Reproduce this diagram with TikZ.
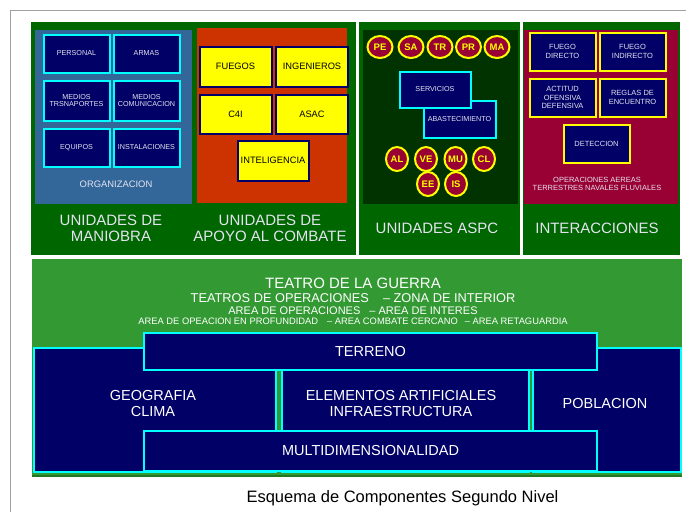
\documentclass[tikz,border=0pt]{standalone}
\usepackage{fontspec}
\setmainfont{Liberation Sans}
\usetikzlibrary{shapes.geometric}
\definecolor{dkgreen}{RGB}{0,102,0}
\definecolor{ltgreen}{RGB}{51,153,51}
\definecolor{edgegreen}{RGB}{34,119,34}
\definecolor{orgblue}{RGB}{51,102,153}
\definecolor{orangec}{RGB}{204,51,0}
\definecolor{navyc}{RGB}{0,0,102}
\definecolor{cyanc}{RGB}{0,255,255}
\definecolor{yelc}{RGB}{255,255,0}
\definecolor{aspcgreen}{RGB}{0,51,0}
\definecolor{maroonc}{RGB}{153,0,51}
\definecolor{txtw}{RGB}{228,228,240}
\definecolor{framegray}{RGB}{160,160,160}
\tikzset{
  nbox/.style={draw=cyanc, fill=navyc, line width=2pt, inner sep=0pt, text=txtw, align=center, font=\fontsize{7.2}{7.8}\selectfont},
  ybox/.style={draw=navyc, fill=yelc, line width=2pt, inner sep=0pt, text=black, align=center, font=\fontsize{9.3}{10}\selectfont},
  mbox/.style={draw=yelc, fill=navyc, line width=2pt, inner sep=0pt, text=txtw, align=center, font=\fontsize{7.5}{8.3}\selectfont},
  circ/.style={ellipse, draw=yelc, fill=maroonc, line width=2pt, inner sep=0pt, text=yelc, font=\bfseries\fontsize{9.5}{10}\selectfont},
  bignav/.style={draw=cyanc, fill=navyc, line width=2pt, inner sep=0pt, text=white, align=center, font=\fontsize{14.5}{16}\selectfont},
  plabel/.style={text=txtw, align=center, inner sep=0pt, font=\fontsize{15}{16}\selectfont},
  smalllabel/.style={text=txtw, align=center, inner sep=0pt},
  wtext/.style={text=white, inner sep=0pt}
}
\begin{document}
\begin{tikzpicture}[x=1pt,y=-1pt]
\useasboundingbox (0,0) rectangle (686,512);
\fill[white] (0,0) rectangle (686,512);
% frame
\draw[framegray, line width=1.5pt] (10.5,512) -- (10.5,10.5) -- (686,10.5);
% top panels
\fill[dkgreen] (31,22) rectangle (356,255);
\fill[dkgreen] (359,22) rectangle (520,255);
\fill[dkgreen] (523,22) rectangle (680,255);
\fill[orgblue] (35,30) rectangle (192,204);
\fill[orangec] (197,28) rectangle (347,203);
\fill[aspcgreen] (363,30) rectangle (518,204);
\fill[maroonc] (524,30) rectangle (678,204);
% organizacion boxes
\node[nbox, minimum width=66, minimum height=38] (personal) at (76.5,53.5) {PERSONAL};
\node[nbox, minimum width=66, minimum height=38] (armas) at (146.5,53.5) {ARMAS};
\node[nbox, minimum width=66, minimum height=40] (mtrans) at (76.5,100.5) {MEDIOS\\TRSNAPORTES};
\node[nbox, minimum width=66, minimum height=40] (mcom) at (146.5,100.5) {MEDIOS\\COMUNICACION};
\node[nbox, minimum width=66, minimum height=38] (equipos) at (76.5,147.5) {EQUIPOS};
\node[nbox, minimum width=66, minimum height=38] (instal) at (146.5,147.5) {INSTALACIONES};
\node[smalllabel, font=\fontsize{9.4}{10}\selectfont] (organiz) at (116,184) {ORGANIZACION};
% apoyo al combate boxes
\node[ybox, minimum width=72, minimum height=40] (fuegos) at (235.5,66.5) {FUEGOS};
\node[ybox, minimum width=72, minimum height=40] (ingen) at (312,66.5) {INGENIEROS};
\node[ybox, minimum width=72, minimum height=39] (c4i) at (235.5,114) {C4I};
\node[ybox, minimum width=72, minimum height=39] (asac) at (312,114) {ASAC};
\node[ybox, minimum width=71, minimum height=40] (intel) at (273,160.5) {INTELIGENCIA};
% panel labels
\node[plabel] (lmaniobra) at (111,228) {UNIDADES DE\\MANIOBRA};
\node[plabel] (lapoyo) at (270,228) {UNIDADES DE\\APOYO AL COMBATE};
\node[plabel] (laspc) at (437,228) {UNIDADES ASPC};
\node[plabel] (linter) at (597,228) {INTERACCIONES};
% ASPC
\node[circ, minimum width=25, minimum height=22] (pe) at (380,47) {PE};
\node[circ, minimum width=25, minimum height=22] (sa) at (411,47) {SA};
\node[circ, minimum width=25, minimum height=22] (tr) at (440,47) {TR};
\node[circ, minimum width=25, minimum height=22] (pr) at (468.5,47) {PR};
\node[circ, minimum width=25, minimum height=22] (ma) at (497,47) {MA};
\node[nbox, minimum width=72, minimum height=37] (abast) at (459.5,119) {ABASTECIMIENTO};
\node[nbox, minimum width=71, minimum height=36] (serv) at (435,89.5) {SERVICIOS};
\node[circ, minimum width=22, minimum height=24] (al) at (397,159) {AL};
\node[circ, minimum width=22, minimum height=24] (ve) at (426,159) {VE};
\node[circ, minimum width=22, minimum height=24] (mu) at (455.5,159) {MU};
\node[circ, minimum width=22, minimum height=24] (cl) at (484,159) {CL};
\node[circ, minimum width=22, minimum height=24] (ee) at (428,184) {EE};
\node[circ, minimum width=22, minimum height=24] (is) at (456,184) {IS};
% interacciones
\node[mbox, minimum width=66, minimum height=38] (fdir) at (562.5,51.5) {FUEGO\\DIRECTO};
\node[mbox, minimum width=66, minimum height=38] (findir) at (632.5,51.5) {FUEGO\\INDIRECTO};
\node[mbox, minimum width=66, minimum height=38] (actitud) at (562.5,97.5) {ACTITUD\\OFENSIVA\\DEFENSIVA};
\node[mbox, minimum width=66, minimum height=38] (reglas) at (632.5,97.5) {REGLAS DE\\ENCUENTRO};
\node[mbox, minimum width=66, minimum height=38] (detec) at (596.5,143.5) {DETECCION};
\node[smalllabel, font=\fontsize{7.5}{8.3}\selectfont] (opers) at (597,184) {OPERACIONES AEREAS\\TERRESTRES NAVALES FLUVIALES};
% lower panel
\fill[ltgreen] (31.5,258.5) rectangle (682,477);
\draw[edgegreen, line width=2pt] (31.5,476) -- (682,476);
\node[wtext, font=\fontsize{15}{15}\selectfont] (teatro) at (353,283.5) {TEATRO DE LA GUERRA};
\node[wtext, font=\fontsize{12.8}{13}\selectfont] (teatros) at (353,298.5) {TEATROS DE OPERACIONES\hspace{14pt}– ZONA DE INTERIOR};
\node[wtext, font=\fontsize{11}{11}\selectfont] (areaop) at (353,311) {AREA DE OPERACIONES\hspace{9pt}– AREA DE INTERES};
\node[wtext, font=\fontsize{9.35}{10}\selectfont] (areaprof) at (353,321.5) {AREA DE OPEACION EN PROFUNDIDAD\hspace{9pt}– AREA COMBATE CERCANO\hspace{7pt}– AREA RETAGUARDIA};
\node[bignav, minimum width=242, minimum height=124] (geobox) at (154.5,409.5) {};
\node[bignav, minimum width=247, minimum height=124] (elembox) at (405,409.5) {};
\node[bignav, minimum width=148, minimum height=124] (poblbox) at (606.5,409.5) {};
\node[text=white, align=center, inner sep=0pt, font=\fontsize{14.5}{16}\selectfont] (geo) at (153,403.5) {GEOGRAFIA\\CLIMA};
\node[text=white, align=center, inner sep=0pt, font=\fontsize{14.5}{16}\selectfont] (elem) at (401,403.5) {ELEMENTOS ARTIFICIALES\\INFRAESTRUCTURA};
\node[text=white, align=center, inner sep=0pt, font=\fontsize{14.5}{16}\selectfont] (pobl) at (605,404) {POBLACION};
\node[bignav, minimum width=453, minimum height=37] (terreno) at (370.5,351.5) {TERRENO};
\node[bignav, minimum width=453, minimum height=40] (multi) at (370.5,451) {MULTIDIMENSIONALIDAD};
% caption
\node[text=black, inner sep=0pt, font=\fontsize{16.5}{18}\selectfont] (caption) at (402.5,498) {Esquema de Componentes Segundo Nivel};
\end{tikzpicture}
\end{document}
